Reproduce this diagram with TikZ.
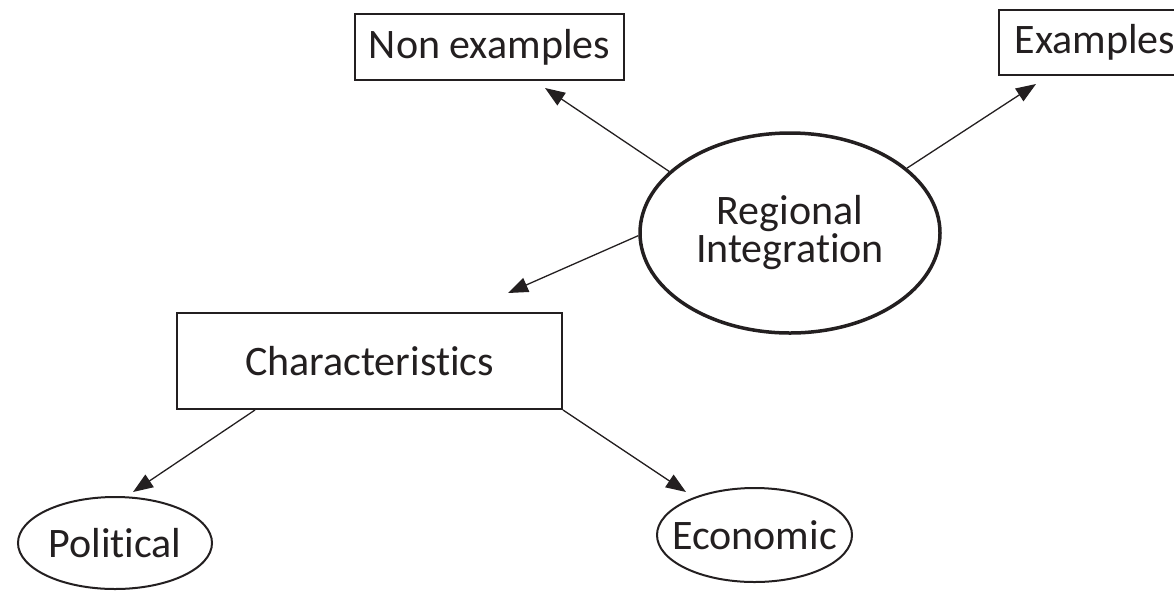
\documentclass[tikz,border=0pt]{standalone}
\usepackage{fontspec}
\setmainfont{Carlito}[Ligatures=NoCommon]
\usepackage{xcolor}
\usepackage{tikz}
\usetikzlibrary{shapes,arrows.meta,positioning,calc}
\definecolor{ink}{RGB}{35,31,32}

\begin{document}
\begin{tikzpicture}[
    x=1pt, y=-1pt,
    every node/.style={text=ink, font=\fontsize{42}{38}\selectfont},
    box/.style={rectangle, draw=ink, line width=2pt, inner sep=0pt},
    oval/.style={ellipse, draw=ink, line width=2pt, inner sep=0pt, align=center},
    arr/.style={-{Triangle[length=20pt, width=15pt]}, line width=1.3pt, draw=ink}
]
    \useasboundingbox (0,0) rectangle (1174,590);
    \clip (0,0) rectangle (1174,590);

    \node [oval, line width=3.5pt, minimum width=300pt, minimum height=200pt] (ri) at (790,233) {\makebox[0pt]{Regional}\\\makebox[0pt]{Integration}};
    \node [box, minimum width=269pt, minimum height=66pt] (nonex) at (489.5,47) {Non examples};
    \node [box, minimum width=192pt, minimum height=65pt] (ex) at (1095,42.5) {Examples};
    \node [box, minimum width=385pt, minimum height=96pt] (ch) at (369.5,361) {Characteristics};
    \node [oval, minimum width=194pt, minimum height=92pt] (pol) at (115,543) {\makebox[0pt]{Political}};
    \node [oval, minimum width=195pt, minimum height=94pt] (eco) at (754.5,535) {\makebox[0pt]{Economic}};

    \draw [arr] (ri.153) -- ([xshift=55.5pt, yshift=-7pt]nonex.south);
    \draw [arr] (ri.29) -- ([xshift=38pt, yshift=-8pt]ex.south west);
    \draw [arr] (ri.181) -- ([xshift=-55pt, yshift=19pt]ch.north east);
    \draw [arr] ([xshift=79pt]ch.south west) -- ([xshift=18pt, yshift=4pt]pol.north);
    \draw [arr] (ch.south east) -- ([xshift=-68.5pt, yshift=-5pt]eco.north);
\end{tikzpicture}
\end{document}
